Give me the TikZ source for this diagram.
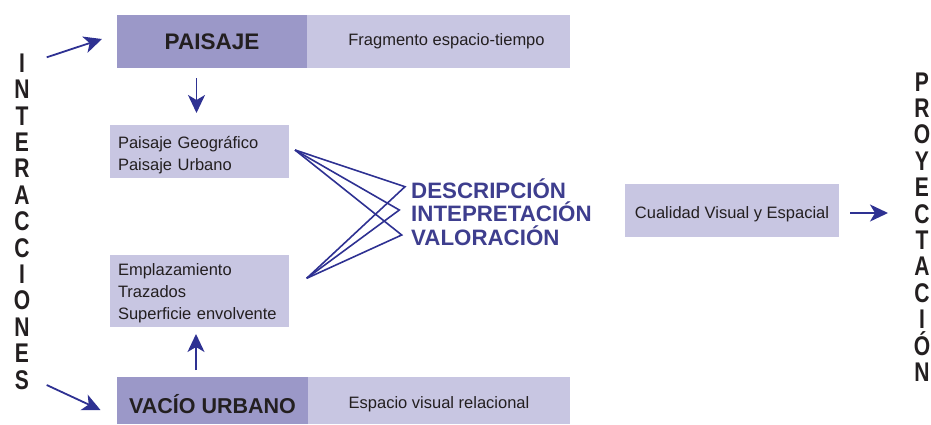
\documentclass[tikz,border=0pt]{standalone}
\usepackage{fontspec}
\setmainfont{Liberation Sans}
\newfontfamily\condfont[FakeStretch=0.78]{Liberation Sans Bold}
\usetikzlibrary{arrows.meta}
\definecolor{darkbox}{RGB}{155,152,200}
\definecolor{lightbox}{RGB}{200,198,226}
\definecolor{arrowblue}{RGB}{46,49,146}
\definecolor{labelblue}{RGB}{62,62,142}
\definecolor{txt}{RGB}{35,31,32}
\begin{document}
\begin{tikzpicture}[x=1pt,y=-1pt,
  box/.style={rectangle, inner sep=0pt, text=txt},
  darkb/.style={box, fill=darkbox, font=\bfseries\fontsize{22.5}{24}\selectfont},
  lightb/.style={box, fill=lightbox, font=\fontsize{16.5}{22}\selectfont},
  arr/.style={draw=arrowblue, line width=1.8pt, -{Stealth[length=18pt,width=17pt,inset=5pt]}},
  chev/.style={draw=arrowblue, line width=1.6pt},
  vert/.style={font=\condfont\fontsize{27}{26.4}\selectfont, align=center, text=txt, inner sep=0pt}
]
\useasboundingbox (0,0) rectangle (931,424);

% top row
\node[darkb, minimum width=190pt, minimum height=53pt] (paisaje) at (212,41.5) {PAISAJE};
\node[lightb, minimum width=263pt, minimum height=53pt] (frag) at (438.5,41.5) {\hspace*{16pt}Fragmento espacio-tiempo};

% left boxes
\node[lightb, minimum width=179pt, minimum height=53pt, text width=163pt, align=left] (geo) at (199.5,151.5) {\rule{0pt}{19.5pt}Paisaje Geográfico\\Paisaje Urbano};
\node[lightb, minimum width=179pt, minimum height=72pt, text width=163pt, align=left] (empl) at (199.5,291) {\rule{0pt}{17pt}Emplazamiento\\Trazados\\Superficie envolvente};

% bottom row
\node[darkb, font=\bfseries\fontsize{21.5}{24}\selectfont, minimum width=191pt, minimum height=47pt, text height=26.4pt, text depth=0pt] (vacio) at (212.5,400.5) {VACÍO URBANO};
\node[lightb, minimum width=262pt, minimum height=47pt, text height=15.8pt, text depth=0pt] (esp) at (439,400.5) {Espacio visual relacional};

% right box
\node[lightb, minimum width=214pt, minimum height=53pt, text height=17.4pt, text depth=0pt] (cual) at (732,210) {Cualidad Visual y Espacial};

% central label
\node[anchor=west, align=left, font=\bfseries\fontsize{22.3}{23.5}\selectfont, text=labelblue, inner sep=0pt] (dir) at (411,212) {DESCRIPCIÓN\\INTEPRETACIÓN\\VALORACIÓN};

% vertical words
\node[vert] (inter) at (22,221.5) {I\\N\\T\\E\\R\\A\\C\\C\\I\\O\\N\\E\\S};
\node[vert] (proy) at (922,227) {P\\R\\O\\Y\\E\\C\\T\\A\\C\\I\\Ó\\N};

% chevron lines
\coordinate (ctop) at (295,150);
\coordinate (cbot) at (306.7,278.3);
\coordinate (t1) at (405,186.7);
\coordinate (t2) at (399.3,210);
\coordinate (t3) at (401.7,235);
\draw[chev, line join=miter] (ctop) -- (t1) -- (cbot);
\draw[chev, line join=miter] (ctop) -- (t2) -- (cbot);
\draw[chev, line join=miter] (ctop) -- (t3) -- (cbot);

% arrows
\coordinate (a1s) at (46.7,57.3);
\coordinate (a1e) at (102,39);
\coordinate (a2s) at (46.7,385);
\coordinate (a2e) at (100.5,410);
\coordinate (d1s) at (196.5,78);
\coordinate (d1e) at (196.5,113);
\coordinate (u1s) at (196,370);
\coordinate (u1e) at (196,334);
\coordinate (r1s) at (850,213);
\coordinate (r1e) at (888,213);
\draw[arr] (a1s) -- (a1e);
\draw[arr] (a2s) -- (a2e);
\draw[arr] (d1s) -- (d1e);
\draw[arr] (u1s) -- (u1e);
\draw[arr] (r1s) -- (r1e);
\end{tikzpicture}
\end{document}
